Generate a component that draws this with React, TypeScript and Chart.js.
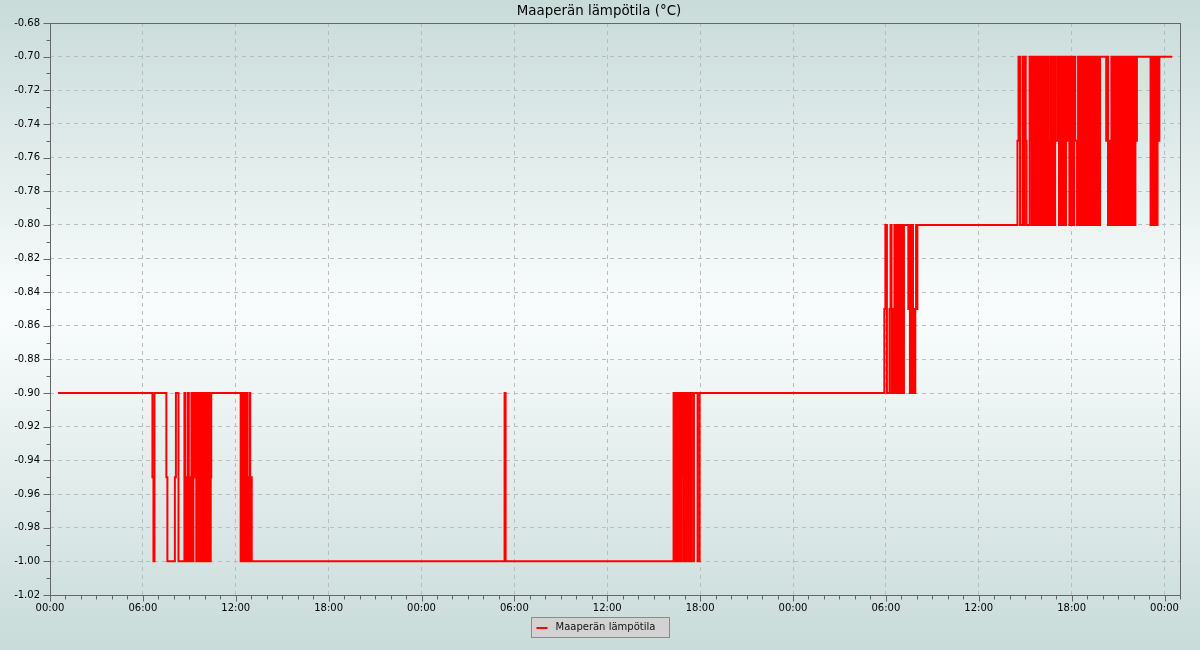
import React, { useEffect, useRef } from 'react';
import { Chart, registerables } from 'chart.js';

Chart.register(...registerables);

const CHART_TITLE = 'Maaperän lämpötila (°C)';
const SERIES_LABEL = 'Maaperän lämpötila';

// x axis in minutes from the first midnight
const X_MIN = 0;
const X_MAX = 4380;
const xTickMinutes = [0, 360, 720, 1080, 1440, 1800, 2160, 2520, 2880, 3240, 3600, 3960, 4320];
const xTickLabels = ['00:00', '06:00', '12:00', '18:00', '00:00', '06:00', '12:00', '18:00', '00:00', '06:00', '12:00', '18:00', '00:00'];

const Y_MIN = -1.02;
const Y_MAX = -0.68;
const yTickValues = [-1.02, -1.0, -0.98, -0.96, -0.94, -0.92, -0.9, -0.88, -0.86, -0.84, -0.82, -0.8, -0.78, -0.76, -0.74, -0.72, -0.7, -0.68];

// change points: from sampleMinutes[i] on, the reading is soilTemps[i]
const sampleMinutes = [
  31,
  397, 401, 405, 451, 455, 484, 488, 498, 521, 525, 529, 531, 535, 538, 542, 545, 548, 552, 556, 560,
  564, 567, 574, 577, 581, 585, 588, 591, 595, 598, 602, 605, 608, 612, 614, 617, 619, 621, 623, 625,
  739, 742, 745, 748, 751, 755, 758, 761, 764, 767, 770, 773, 776, 779, 782,
  1762, 1766,
  2417, 2421, 2424, 2427, 2430, 2433, 2436, 2440, 2443, 2446, 2449, 2451, 2453, 2457, 2460, 2463, 2466,
  2469, 2472, 2475, 2478, 2481, 2485, 2493, 2496, 2510, 2518,
  3234, 3238, 3244, 3254, 3258, 3262, 3265, 3268, 3273, 3276, 3279, 3282, 3286, 3289, 3292, 3295, 3298,
  3301, 3304, 3307, 3310, 3327, 3330, 3333, 3336, 3339, 3342, 3345, 3348, 3351, 3354, 3357, 3360, 3362,
  3750, 3754, 3760, 3770, 3774, 3777, 3782, 3785, 3797, 3801, 3805, 3808, 3812, 3816, 3820, 3824, 3828,
  3832, 3836, 3839, 3843, 3847, 3851, 3855, 3859, 3863, 3867, 3870, 3874, 3878, 3882, 3886, 3889, 3893,
  3896, 3899, 3907, 3911, 3915, 3918, 3922, 3926, 3930, 3934, 3938, 3942, 3947, 3951, 3955, 3959, 3963,
  3966, 3970, 3974, 3981, 3985, 3989, 3993, 3997, 4001, 4004, 4008, 4012, 4016, 4020, 4024, 4028, 4032,
  4035, 4039, 4043, 4047, 4051, 4055, 4059, 4063, 4066, 4070, 4094, 4098, 4101, 4104, 4110, 4114, 4118,
  4121, 4125, 4129, 4133, 4137, 4141, 4145, 4149, 4152, 4156, 4160, 4164, 4168, 4172, 4176, 4180, 4183,
  4188, 4192, 4196, 4199, 4204, 4207, 4210, 4213, 4266, 4269, 4273, 4277, 4281, 4284, 4289, 4293, 4296,
  4300, 4350,
];

const soilTemps = [
  -0.9,
  -0.95, -1.0, -0.9, -0.95, -1.0, -0.95, -0.9, -1.0, -0.9, -1.0, -0.95, -1.0, -0.9, -1.0, -0.95, -1.0, -0.9, -1.0, -0.9, -0.95,
  -0.9, -1.0, -0.9, -1.0, -0.9, -0.95, -1.0, -0.9, -1.0, -0.9, -0.95, -1.0, -0.9, -1.0, -0.9, -1.0, -0.9, -1.0, -0.95, -0.9,
  -1.0, -0.9, -1.0, -0.9, -1.0, -0.9, -1.0, -0.9, -1.0, -0.95, -1.0, -0.9, -1.0, -0.95, -1.0,
  -0.9, -1.0,
  -0.9, -1.0, -0.9, -1.0, -0.9, -1.0, -0.9, -1.0, -0.9, -1.0, -0.9, -0.95, -0.9, -1.0, -0.9, -1.0, -0.9,
  -1.0, -0.9, -1.0, -0.9, -1.0, -0.9, -1.0, -0.9, -1.0, -0.9,
  -0.85, -0.8, -0.9, -0.85, -0.8, -0.9, -0.85, -0.9, -0.8, -0.9, -0.8, -0.9, -0.8, -0.9, -0.8, -0.9, -0.8,
  -0.9, -0.8, -0.9, -0.8, -0.85, -0.8, -0.9, -0.8, -0.9, -0.8, -0.9, -0.85, -0.9, -0.85, -0.8, -0.85, -0.8,
  -0.75, -0.7, -0.8, -0.7, -0.8, -0.7, -0.75, -0.8, -0.7, -0.75, -0.8, -0.7, -0.8, -0.7, -0.8, -0.7, -0.8,
  -0.7, -0.75, -0.8, -0.7, -0.8, -0.7, -0.8, -0.7, -0.8, -0.7, -0.75, -0.8, -0.7, -0.8, -0.7, -0.75, -0.8,
  -0.7, -0.75, -0.7, -0.8, -0.7, -0.8, -0.7, -0.8, -0.7, -0.8, -0.7, -0.75, -0.7, -0.8, -0.7, -0.8, -0.7,
  -0.8, -0.7, -0.75, -0.8, -0.7, -0.8, -0.7, -0.8, -0.7, -0.8, -0.7, -0.8, -0.7, -0.8, -0.7, -0.8, -0.7,
  -0.8, -0.7, -0.8, -0.7, -0.8, -0.7, -0.8, -0.7, -0.8, -0.7, -0.75, -0.7, -0.8, -0.75, -0.8, -0.7, -0.8,
  -0.7, -0.8, -0.7, -0.8, -0.7, -0.8, -0.7, -0.8, -0.7, -0.8, -0.7, -0.8, -0.7, -0.8, -0.7, -0.8, -0.7,
  -0.8, -0.7, -0.8, -0.7, -0.8, -0.7, -0.75, -0.7, -0.8, -0.7, -0.8, -0.7, -0.8, -0.7, -0.8, -0.7, -0.75,
  -0.7, -0.7,
];

const FONT = "'DejaVu Sans', 'Liberation Sans', sans-serif";

const backgroundPlugin = {
  id: 'bgGradient',
  beforeDraw(chart: any) {
    const { ctx, width, height } = chart;
    const g = ctx.createLinearGradient(0, 0, 0, height);
    g.addColorStop(0, '#c8dbd9');
    g.addColorStop(0.48, '#fafdfd');
    g.addColorStop(1, '#c8dbd9');
    ctx.save();
    ctx.fillStyle = g;
    ctx.fillRect(0, 0, width, height);
    ctx.restore();
  },
};

const titlePlugin = {
  id: 'centeredTitle',
  afterDraw(chart: any) {
    const { ctx } = chart;
    ctx.save();
    ctx.font = `13.4px ${FONT}`;
    ctx.fillStyle = '#000000';
    ctx.textAlign = 'center';
    ctx.textBaseline = 'middle';
    ctx.fillText(CHART_TITLE, chart.width / 2 - 1, 12);
    ctx.restore();
  },
};

const frameTicksPlugin = {
  id: 'frameTicks',
  afterDatasetsDraw(chart: any) {
    const { ctx, chartArea: a, scales } = chart;
    const xs = scales.x;
    const ys = scales.y;
    const left = Math.round(a.left);
    const top = Math.round(a.top);
    const right = Math.round(a.right);
    const bottom = Math.round(a.bottom);
    ctx.save();
    ctx.strokeStyle = '#666666';
    ctx.lineWidth = 1;
    ctx.strokeRect(left + 0.5, top + 0.5, right - left, bottom - top);
    ctx.beginPath();
    for (let m = X_MIN; m <= X_MAX; m += 60) {
      const px = Math.round(xs.getPixelForValue(m)) + 0.5;
      const len = m % 360 === 0 ? 6 : 4;
      ctx.moveTo(px, bottom + 0.5);
      ctx.lineTo(px, bottom + 0.5 + len);
    }
    for (let k = 0; k <= 34; k++) {
      const v = Y_MIN + k * 0.01;
      const py = Math.round(ys.getPixelForValue(v)) + 0.5;
      const len = k % 2 === 0 ? 7 : 4;
      ctx.moveTo(left + 0.5 - len, py);
      ctx.lineTo(left + 0.5, py);
    }
    ctx.stroke();
    ctx.restore();
  },
};

const legendBoxPlugin = {
  id: 'legendBox',
  afterDraw(chart: any) {
    const { ctx } = chart;
    const ds = chart.data.datasets[0];
    const label = ds.label as string;
    ctx.save();
    ctx.font = `10px ${FONT}`;
    const tw = ctx.measureText(label).width;
    const boxW = Math.round(5 + 11 + 9 + tw + 13);
    const boxH = 20;
    const bx = Math.round(chart.width / 2 - boxW / 2) + 0.5;
    const by = Math.round(chart.scales.x.bottom) + 0.5;
    ctx.fillStyle = '#d2d2d2';
    ctx.fillRect(bx, by, boxW, boxH);
    ctx.strokeStyle = '#8a8a8a';
    ctx.lineWidth = 1;
    ctx.strokeRect(bx, by, boxW, boxH);
    ctx.strokeStyle = ds.borderColor;
    ctx.lineWidth = 2;
    ctx.beginPath();
    ctx.moveTo(bx + 5, by + 10.5);
    ctx.lineTo(bx + 16, by + 10.5);
    ctx.stroke();
    ctx.fillStyle = '#111111';
    ctx.textBaseline = 'middle';
    ctx.textAlign = 'left';
    ctx.fillText(label, bx + 24, by + 10);
    ctx.restore();
  },
};

export default function App() {
  const canvasRef = useRef<HTMLCanvasElement>(null);

  useEffect(() => {
    if (!canvasRef.current) return;
    const points = sampleMinutes.map((m, i) => ({ x: m, y: soilTemps[i] }));
    const chart = new Chart(canvasRef.current, {
      type: 'line',
      data: {
        datasets: [
          {
            label: SERIES_LABEL,
            data: points,
            borderColor: '#ff0000',
            backgroundColor: '#ff0000',
            borderWidth: 2,
            stepped: true,
            pointRadius: 0,
            pointHoverRadius: 0,
            fill: false,
            tension: 0,
          },
        ],
      },
      options: {
        animation: false,
        responsive: false,
        maintainAspectRatio: false,
        events: [],
        layout: { padding: { left: 0, right: 20, top: 23, bottom: 33 } },
        plugins: {
          legend: { display: false },
          tooltip: { enabled: false },
          title: { display: false },
        },
        scales: {
          x: {
            type: 'linear',
            min: X_MIN,
            max: X_MAX,
            afterBuildTicks: (scale: any) => {
              scale.ticks = xTickMinutes.map((v) => ({ value: v }));
            },
            afterFit: (scale: any) => {
              scale.height = 22;
            },
            ticks: {
              autoSkip: false,
              maxRotation: 0,
              padding: 7,
              color: '#000000',
              font: { family: FONT, size: 10 },
              callback: (_v: any, i: number) => xTickLabels[i],
            },
            grid: { color: '#bcbcbc', lineWidth: 1, drawTicks: false },
            border: { display: false, dash: [4, 4] },
          },
          y: {
            type: 'linear',
            min: Y_MIN,
            max: Y_MAX,
            afterBuildTicks: (scale: any) => {
              scale.ticks = yTickValues.map((v) => ({ value: v }));
            },
            afterFit: (scale: any) => {
              scale.width = 50;
            },
            ticks: {
              autoSkip: false,
              padding: 10,
              color: '#000000',
              font: { family: FONT, size: 10 },
              callback: (v: any) => Number(v).toFixed(2),
            },
            grid: { color: '#bcbcbc', lineWidth: 1, drawTicks: false },
            border: { display: false, dash: [4, 4] },
          },
        },
      },
      plugins: [backgroundPlugin, frameTicksPlugin, legendBoxPlugin, titlePlugin],
    } as any);
    return () => chart.destroy();
  }, []);

  return (
    <div style={{ position: 'fixed', left: 0, top: 0, width: 1200, height: 650 }}>
      <canvas ref={canvasRef} width={1200} height={650} style={{ display: 'block', width: 1200, height: 650 }} />
    </div>
  );
}
